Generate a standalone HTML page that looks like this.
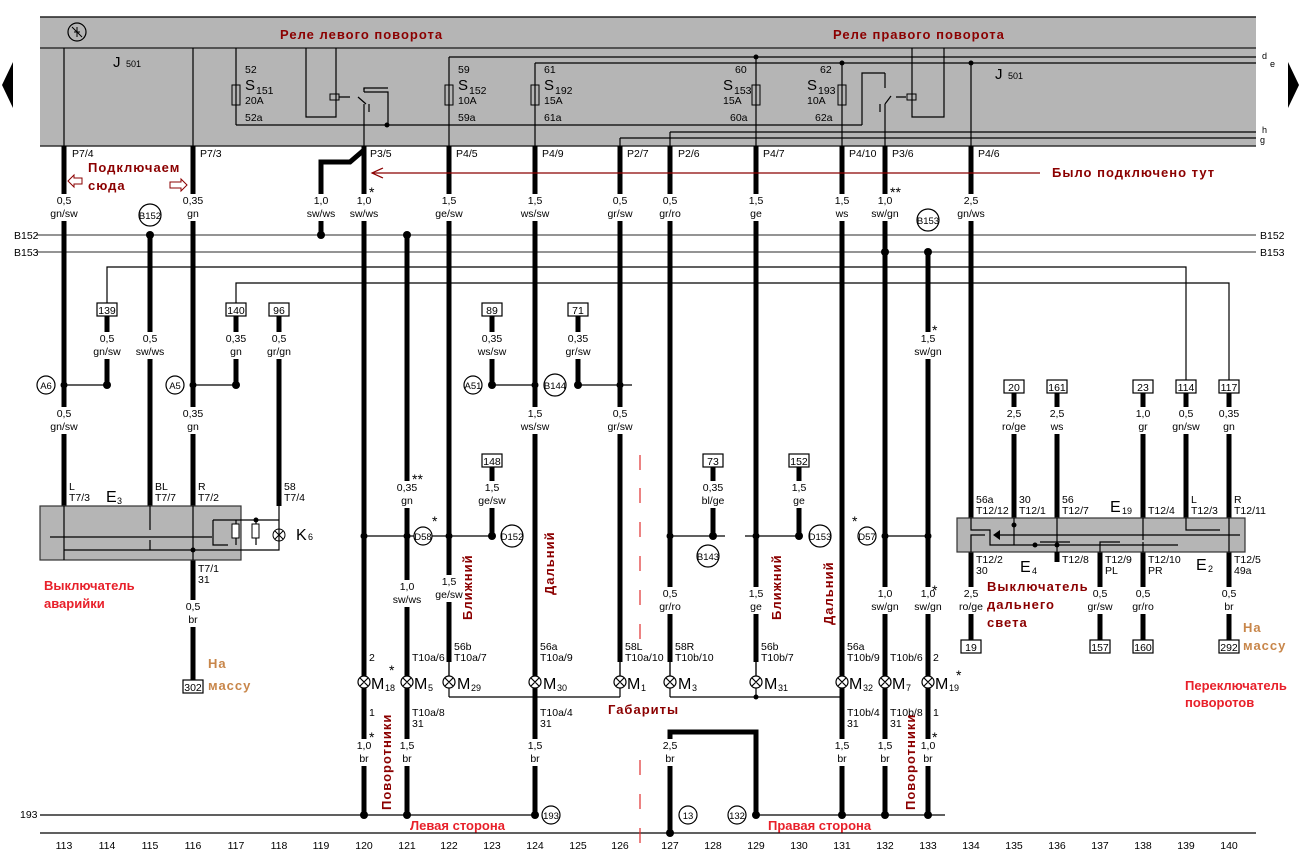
<!DOCTYPE html>
<html><head><meta charset="utf-8"><style>
html,body{margin:0;padding:0;background:#fff}
svg{display:block}
text{font-family:"Liberation Sans",Arial,sans-serif;font-size:10.5px;fill:#000}
.c{text-anchor:middle}
.w{stroke:#000;stroke-width:5;fill:none}
.t{stroke:#000;stroke-width:1.2;fill:none}
.g{stroke:#555;stroke-width:1.3;fill:none}
.wb{fill:#fff}
.bx{fill:#fff;stroke:#000;stroke-width:1.2}
.r{font-family:"Liberation Sans","DejaVu Sans",sans-serif;font-weight:bold;font-size:13px;fill:#8b0000;letter-spacing:1px}
.rr{font-family:"Liberation Sans","DejaVu Sans",sans-serif;font-weight:bold;font-size:13px;fill:#e8202a}
.or{font-family:"Liberation Sans","DejaVu Sans",sans-serif;font-weight:bold;font-size:13px;fill:#c8864a;letter-spacing:1px}
.sm{font-size:9px}
</style></head><body>
<svg width="1302" height="853" viewBox="0 0 1302 853" xmlns="http://www.w3.org/2000/svg">
<rect x="40" y="17" width="1216" height="129" fill="#b5b5b5"/>
<line x1="40" y1="17" x2="1256" y2="17" stroke="#222" stroke-width="1.5"/>
<line x1="40" y1="48" x2="1256" y2="48" stroke="#333" stroke-width="1.5"/>
<line x1="40" y1="146" x2="1256" y2="146" stroke="#333" stroke-width="1.5"/>
<line x1="449" y1="57" x2="1256" y2="57" class="t"/>
<line x1="535" y1="63" x2="1256" y2="63" class="t"/>
<line x1="620" y1="138" x2="1256" y2="138" class="t"/>
<line x1="670" y1="132" x2="1256" y2="132" class="t"/>
<line x1="236" y1="125" x2="862" y2="125" class="t"/>
<path class="t" d="M862 125 V73 H885"/>
<circle cx="387" cy="125" r="2.5"/>
<circle cx="756" cy="57" r="2.5"/><circle cx="842" cy="63" r="2.5"/><circle cx="971" cy="63" r="2.5"/>
<text x="1262" y="59" class="sm">d</text><text x="1270" y="67" class="sm">e</text>
<text x="1262" y="133" class="sm">h</text><text x="1260" y="143" class="sm">g</text>
<circle cx="77" cy="32" r="9" fill="none" stroke="#000" stroke-width="1.2"/>
<path d="M72 27 L82 37 M77 27 V37 M74 32 H80" stroke="#000" stroke-width="1"/>
<text x="280" y="39" class="r">Реле левого поворота</text>
<text x="833" y="39" class="r">Реле правого поворота</text>
<text x="113" y="67" style="font-size:15px">J</text><text x="126" y="67" class="sm">501</text>
<text x="995" y="79" style="font-size:15px">J</text><text x="1008" y="79" class="sm">501</text>
<path d="M13 62 L2 85 L13 108 Z"/><path d="M1288 62 L1299 85 L1288 108 Z"/>
<line x1="64" y1="48" x2="64" y2="146" class="t"/>
<line x1="193" y1="48" x2="193" y2="146" class="t"/>
<line x1="236" y1="48" x2="236" y2="125" class="t"/>
<line x1="449" y1="57" x2="449" y2="146" class="t"/>
<line x1="535" y1="63" x2="535" y2="146" class="t"/>
<line x1="756" y1="57" x2="756" y2="146" class="t"/>
<line x1="842" y1="63" x2="842" y2="146" class="t"/>
<line x1="971" y1="63" x2="971" y2="146" class="t"/>
<path class="t" d="M620 146 V138"/><path class="t" d="M670 146 V132"/>
<g>
<rect x="232" y="85" width="8" height="20" fill="none" stroke="#000"/><text x="245" y="73">52</text><text x="245" y="90" style="font-size:15px">S</text><text x="256" y="94">151</text><text x="245" y="104">20A</text><text x="245" y="121">52a</text>
<rect x="445" y="85" width="8" height="20" fill="none" stroke="#000"/><text x="458" y="73">59</text><text x="458" y="90" style="font-size:15px">S</text><text x="469" y="94">152</text><text x="458" y="104">10A</text><text x="458" y="121">59a</text>
<rect x="531" y="85" width="8" height="20" fill="none" stroke="#000"/><text x="544" y="73">61</text><text x="544" y="90" style="font-size:15px">S</text><text x="555" y="94">192</text><text x="544" y="104">15A</text><text x="544" y="121">61a</text>
<rect x="752" y="85" width="8" height="20" fill="none" stroke="#000"/><text x="735" y="73">60</text><text x="723" y="90" style="font-size:15px">S</text><text x="734" y="94">153</text><text x="723" y="104">15A</text><text x="730" y="121">60a</text>
<rect x="838" y="85" width="8" height="20" fill="none" stroke="#000"/><text x="820" y="73">62</text><text x="807" y="90" style="font-size:15px">S</text><text x="818" y="94">193</text><text x="807" y="104">10A</text><text x="815" y="121">62a</text>
</g>
<path class="t" d="M306 48 V117 H336 V48"/>
<rect x="330" y="94" width="9" height="6" fill="none" stroke="#000"/>
<path class="t" d="M339 97 H350 M358 97 L366 104 M364 104 V146 M369 104 V112 M364 88 V90 M364 92 H388 V125" />
<path class="t" d="M364 92 V88 H388"/>
<path class="t" d="M912 48 V117 H944 V48"/>
<rect x="907" y="94" width="9" height="6" fill="none" stroke="#000"/>
<path class="t" d="M896 97 H906 M885 104 L891 96 M885 104 V146 M880 104 V112 M885 88 V73"/>
<g>
<text x="72" y="157">P7/4</text><text x="200" y="157">P7/3</text><text x="370" y="157">P3/5</text><text x="456" y="157">P4/5</text><text x="542" y="157">P4/9</text><text x="627" y="157">P2/7</text><text x="678" y="157">P2/6</text><text x="763" y="157">P4/7</text><text x="849" y="157">P4/10</text><text x="892" y="157">P3/6</text><text x="978" y="157">P4/6</text>
</g>
<line x1="36" y1="235" x2="1256" y2="235" class="g"/>
<line x1="36" y1="252" x2="1256" y2="252" class="g"/>
<text x="14" y="239">B152</text><text x="14" y="256">B153</text>
<text x="1260" y="239">B152</text><text x="1260" y="256">B153</text>
<path class="t" d="M107 303 V267 H1186 V380"/>
<path class="t" d="M236 303 V283 H1229 V380"/>
<g class="w">
<path d="M64 146 V506"/><path d="M193 146 V506"/><path d="M150 235 V506"/><path d="M279 316 V506"/>
<path d="M107 316 V385"/><path d="M236 316 V385"/>
<path d="M321 235 V162 H350 L364 150"/>
<path d="M364 146 V815"/><path d="M407 235 V815"/><path d="M449 146 V662"/>
<path d="M492 316 V385"/><path d="M578 316 V385"/><path d="M492 467 V536"/>
<path d="M535 146 V815"/><path d="M620 146 V662"/>
<path d="M670 146 V662"/><path d="M713 467 V536"/><path d="M756 146 V662"/><path d="M799 467 V536"/>
<path d="M842 146 V815"/><path d="M885 146 V815"/><path d="M928 252 V815"/>
<path d="M670 833 V732 H756 V815"/>
<path d="M971 146 V518"/><path d="M971 552 V640"/>
<path d="M1014 393 V518"/><path d="M1057 393 V518"/><path d="M1143 393 V518"/><path d="M1186 393 V518"/><path d="M1229 393 V518"/>
<path d="M1100 552 V640"/><path d="M1143 552 V640"/><path d="M1229 552 V640"/>
<path d="M193 560 V680"/>
</g>
<g fill="#000">
<circle cx="150" cy="235" r="4"/><circle cx="321" cy="235" r="4"/><circle cx="407" cy="235" r="4"/>
<circle cx="885" cy="252" r="4"/><circle cx="928" cy="252" r="4"/>
<circle cx="64" cy="385" r="3.5"/><circle cx="107" cy="385" r="4"/><circle cx="193" cy="385" r="3.5"/><circle cx="236" cy="385" r="4"/>
<circle cx="492" cy="385" r="4"/><circle cx="535" cy="385" r="3.5"/><circle cx="578" cy="385" r="4"/><circle cx="620" cy="385" r="3.5"/>
<circle cx="364" cy="536" r="3.5"/><circle cx="407" cy="536" r="3.5"/><circle cx="449" cy="536" r="3.5"/><circle cx="492" cy="536" r="4"/>
<circle cx="670" cy="536" r="3.5"/><circle cx="713" cy="536" r="4"/><circle cx="756" cy="536" r="3.5"/><circle cx="799" cy="536" r="4"/>
<circle cx="885" cy="536" r="3.5"/><circle cx="928" cy="536" r="3.5"/>
<circle cx="364" cy="815" r="4"/><circle cx="407" cy="815" r="4"/><circle cx="535" cy="815" r="4"/><circle cx="670" cy="833" r="4"/>
<circle cx="756" cy="815" r="4"/><circle cx="842" cy="815" r="4"/><circle cx="885" cy="815" r="4"/><circle cx="928" cy="815" r="4"/>
<circle cx="535" cy="697" r="2.5"/><circle cx="842" cy="697" r="2.5"/><circle cx="756" cy="697" r="2.5"/>
</g>
<g class="t">
<path d="M64 385 H107"/><path d="M193 385 H236"/><path d="M492 385 H535"/><path d="M578 385 H632"/>
<path d="M364 536 H449"/><path d="M449 536 H492"/><path d="M670 536 H725"/><path d="M745 536 H799"/><path d="M885 536 H928"/>
<path d="M449 697 H620"/><path d="M670 697 H842"/>
<path d="M40 815 H535"/><path d="M756 815 H945"/>
<path d="M40 833 H1256"/>
<path d="M449 662 V697 M620 662 V697 M670 662 V697 M756 662 V697"/>
</g>
<path d="M640 455 V470 M640 488 V503 M640 522 V537 M640 556 V571 M640 590 V605 M640 624 V639 M640 760 V775 M640 794 V809 M640 828 V843" stroke="#e03030" stroke-width="1.2"/>
<g class="wb">
<rect x="46" y="194" width="36" height="27"/><rect x="175" y="194" width="36" height="27"/><rect x="303" y="194" width="36" height="27"/><rect x="346" y="194" width="36" height="27"/><rect x="431" y="194" width="36" height="27"/><rect x="517" y="194" width="36" height="27"/><rect x="602" y="194" width="36" height="27"/><rect x="652" y="194" width="36" height="27"/><rect x="738" y="194" width="36" height="27"/><rect x="824" y="194" width="36" height="27"/><rect x="867" y="194" width="36" height="27"/><rect x="953" y="194" width="36" height="27"/>
<rect x="89" y="332" width="36" height="27"/><rect x="132" y="332" width="36" height="27"/><rect x="218" y="332" width="36" height="27"/><rect x="261" y="332" width="36" height="27"/><rect x="474" y="332" width="36" height="27"/><rect x="560" y="332" width="36" height="27"/><rect x="910" y="332" width="36" height="27"/>
<rect x="46" y="407" width="36" height="27"/><rect x="175" y="407" width="36" height="27"/><rect x="517" y="407" width="36" height="27"/><rect x="602" y="407" width="36" height="27"/><rect x="996" y="407" width="36" height="27"/><rect x="1039" y="407" width="36" height="27"/><rect x="1125" y="407" width="36" height="27"/><rect x="1168" y="407" width="36" height="27"/><rect x="1211" y="407" width="36" height="27"/>
<rect x="389" y="481" width="36" height="27"/><rect x="474" y="481" width="36" height="27"/><rect x="695" y="481" width="36" height="27"/><rect x="781" y="481" width="36" height="27"/>
<rect x="389" y="580" width="36" height="27"/><rect x="431" y="575" width="36" height="27"/><rect x="652" y="587" width="36" height="27"/><rect x="738" y="587" width="36" height="27"/><rect x="867" y="587" width="36" height="27"/><rect x="910" y="587" width="36" height="27"/><rect x="953" y="587" width="36" height="27"/><rect x="1082" y="587" width="36" height="27"/><rect x="1125" y="587" width="36" height="27"/><rect x="1211" y="587" width="36" height="27"/><rect x="175" y="600" width="36" height="27"/>
<rect x="346" y="739" width="36" height="27"/><rect x="389" y="739" width="36" height="27"/><rect x="517" y="739" width="36" height="27"/><rect x="652" y="739" width="36" height="27"/><rect x="824" y="739" width="36" height="27"/><rect x="867" y="739" width="36" height="27"/><rect x="910" y="739" width="36" height="27"/>
</g>
<g class="c">
<text x="64" y="204">0,5</text><text x="64" y="217">gn/sw</text>
<text x="193" y="204">0,35</text><text x="193" y="217">gn</text>
<text x="321" y="204">1,0</text><text x="321" y="217">sw/ws</text>
<text x="364" y="204">1,0</text><text x="364" y="217">sw/ws</text>
<text x="449" y="204">1,5</text><text x="449" y="217">ge/sw</text>
<text x="535" y="204">1,5</text><text x="535" y="217">ws/sw</text>
<text x="620" y="204">0,5</text><text x="620" y="217">gr/sw</text>
<text x="670" y="204">0,5</text><text x="670" y="217">gr/ro</text>
<text x="756" y="204">1,5</text><text x="756" y="217">ge</text>
<text x="842" y="204">1,5</text><text x="842" y="217">ws</text>
<text x="885" y="204">1,0</text><text x="885" y="217">sw/gn</text>
<text x="971" y="204">2,5</text><text x="971" y="217">gn/ws</text>
<text x="107" y="342">0,5</text><text x="107" y="355">gn/sw</text>
<text x="150" y="342">0,5</text><text x="150" y="355">sw/ws</text>
<text x="236" y="342">0,35</text><text x="236" y="355">gn</text>
<text x="279" y="342">0,5</text><text x="279" y="355">gr/gn</text>
<text x="492" y="342">0,35</text><text x="492" y="355">ws/sw</text>
<text x="578" y="342">0,35</text><text x="578" y="355">gr/sw</text>
<text x="928" y="342">1,5</text><text x="928" y="355">sw/gn</text>
<text x="64" y="417">0,5</text><text x="64" y="430">gn/sw</text>
<text x="193" y="417">0,35</text><text x="193" y="430">gn</text>
<text x="535" y="417">1,5</text><text x="535" y="430">ws/sw</text>
<text x="620" y="417">0,5</text><text x="620" y="430">gr/sw</text>
<text x="1014" y="417">2,5</text><text x="1014" y="430">ro/ge</text>
<text x="1057" y="417">2,5</text><text x="1057" y="430">ws</text>
<text x="1143" y="417">1,0</text><text x="1143" y="430">gr</text>
<text x="1186" y="417">0,5</text><text x="1186" y="430">gn/sw</text>
<text x="1229" y="417">0,35</text><text x="1229" y="430">gn</text>
<text x="407" y="491">0,35</text><text x="407" y="504">gn</text>
<text x="492" y="491">1,5</text><text x="492" y="504">ge/sw</text>
<text x="713" y="491">0,35</text><text x="713" y="504">bl/ge</text>
<text x="799" y="491">1,5</text><text x="799" y="504">ge</text>
<text x="407" y="590">1,0</text><text x="407" y="603">sw/ws</text>
<text x="449" y="585">1,5</text><text x="449" y="598">ge/sw</text>
<text x="670" y="597">0,5</text><text x="670" y="610">gr/ro</text>
<text x="756" y="597">1,5</text><text x="756" y="610">ge</text>
<text x="885" y="597">1,0</text><text x="885" y="610">sw/gn</text>
<text x="928" y="597">1,0</text><text x="928" y="610">sw/gn</text>
<text x="971" y="597">2,5</text><text x="971" y="610">ro/ge</text>
<text x="1100" y="597">0,5</text><text x="1100" y="610">gr/sw</text>
<text x="1143" y="597">0,5</text><text x="1143" y="610">gr/ro</text>
<text x="1229" y="597">0,5</text><text x="1229" y="610">br</text>
<text x="193" y="610">0,5</text><text x="193" y="623">br</text>
<text x="364" y="749">1,0</text><text x="364" y="762">br</text>
<text x="407" y="749">1,5</text><text x="407" y="762">br</text>
<text x="535" y="749">1,5</text><text x="535" y="762">br</text>
<text x="670" y="749">2,5</text><text x="670" y="762">br</text>
<text x="842" y="749">1,5</text><text x="842" y="762">br</text>
<text x="885" y="749">1,5</text><text x="885" y="762">br</text>
<text x="928" y="749">1,0</text><text x="928" y="762">br</text>
</g>
<g>
<rect class="bx" x="97" y="303" width="20" height="13"/><text x="107" y="314" class="c">139</text>
<rect class="bx" x="226" y="303" width="20" height="13"/><text x="236" y="314" class="c">140</text>
<rect class="bx" x="269" y="303" width="20" height="13"/><text x="279" y="314" class="c">96</text>
<rect class="bx" x="482" y="303" width="20" height="13"/><text x="492" y="314" class="c">89</text>
<rect class="bx" x="568" y="303" width="20" height="13"/><text x="578" y="314" class="c">71</text>
<rect class="bx" x="482" y="454" width="20" height="13"/><text x="492" y="465" class="c">148</text>
<rect class="bx" x="703" y="454" width="20" height="13"/><text x="713" y="465" class="c">73</text>
<rect class="bx" x="789" y="454" width="20" height="13"/><text x="799" y="465" class="c">152</text>
<rect class="bx" x="1004" y="380" width="20" height="13"/><text x="1014" y="391" class="c">20</text>
<rect class="bx" x="1047" y="380" width="20" height="13"/><text x="1057" y="391" class="c">161</text>
<rect class="bx" x="1133" y="380" width="20" height="13"/><text x="1143" y="391" class="c">23</text>
<rect class="bx" x="1176" y="380" width="20" height="13"/><text x="1186" y="391" class="c">114</text>
<rect class="bx" x="1219" y="380" width="20" height="13"/><text x="1229" y="391" class="c">117</text>
<rect class="bx" x="961" y="640" width="20" height="13"/><text x="971" y="651" class="c">19</text>
<rect class="bx" x="1090" y="640" width="20" height="13"/><text x="1100" y="651" class="c">157</text>
<rect class="bx" x="1133" y="640" width="20" height="13"/><text x="1143" y="651" class="c">160</text>
<rect class="bx" x="1219" y="640" width="20" height="13"/><text x="1229" y="651" class="c">292</text>
<rect class="bx" x="183" y="680" width="20" height="13"/><text x="193" y="691" class="c">302</text>
</g>
<g fill="#fff" stroke="#000" stroke-width="1.2">
<circle cx="150" cy="215" r="11"/><circle cx="928" cy="220" r="11"/>
<circle cx="46" cy="385" r="9"/><circle cx="175" cy="385" r="9"/><circle cx="473" cy="385" r="9"/><circle cx="555" cy="385" r="11"/>
<circle cx="423" cy="536" r="9"/><circle cx="512" cy="536" r="11"/><circle cx="708" cy="556" r="11"/><circle cx="820" cy="536" r="11"/><circle cx="867" cy="536" r="9"/>
<circle cx="551" cy="815" r="9"/><circle cx="688" cy="815" r="9"/><circle cx="737" cy="815" r="9"/>
</g>
<g class="c">
<text x="150" y="219" style="font-size:9.5px">B152</text><text x="928" y="224" style="font-size:9.5px">B153</text>
<text x="46" y="389" style="font-size:9.5px">A6</text><text x="175" y="389" style="font-size:9.5px">A5</text><text x="473" y="389" style="font-size:9.5px">A51</text><text x="555" y="389" style="font-size:9.5px">B144</text>
<text x="423" y="540" style="font-size:9.5px">D58</text><text x="512" y="540" style="font-size:9.5px">D152</text><text x="708" y="560" style="font-size:9.5px">B143</text><text x="820" y="540" style="font-size:9.5px">D153</text><text x="867" y="540" style="font-size:9.5px">D57</text>
<text x="551" y="819" style="font-size:9.5px">193</text><text x="688" y="819" style="font-size:9.5px">13</text><text x="737" y="819" style="font-size:9.5px">132</text>
</g>
<rect x="40" y="506" width="201" height="54" fill="#b5b5b5" stroke="#333" stroke-width="1.2"/>
<path class="t" d="M50 537 H212 M64 506 V560 M150 506 V530 M193 506 V560 M64 550 H279 V506 M150 540 V550 M213 520 H279 M213 520 V545 H228 M228 520 H265 M236 520 V545 M256 520 V545 M265 520 H279"/>
<rect x="232" y="524" width="7" height="14" fill="#fff" stroke="#000"/><rect x="252" y="524" width="7" height="14" fill="#fff" stroke="#000"/>
<circle cx="279" cy="535" r="6" fill="none" stroke="#000"/><path d="M275 531 L283 539 M283 531 L275 539" stroke="#000"/>
<circle cx="256" cy="520" r="2.5"/><circle cx="193" cy="550" r="2.5"/>
<text x="296" y="540" style="font-size:16px">K</text><text x="308" y="540" class="sm">6</text>
<text x="106" y="502" style="font-size:16px">E</text><text x="117" y="504" class="sm">3</text>
<text x="69" y="490">L</text><text x="69" y="501">T7/3</text>
<text x="155" y="490">BL</text><text x="155" y="501">T7/7</text>
<text x="198" y="490">R</text><text x="198" y="501">T7/2</text>
<text x="284" y="490">58</text><text x="284" y="501">T7/4</text>
<text x="198" y="572">T7/1</text><text x="198" y="583">31</text>
<text x="44" y="590" class="rr">Выключатель</text><text x="44" y="608" class="rr">аварийки</text>
<text x="208" y="668" class="or">На</text><text x="208" y="690" class="or">массу</text>
<rect x="957" y="518" width="288" height="34" fill="#b5b5b5" stroke="#333" stroke-width="1.2"/>
<path class="t" d="M971 518 V530 H990 V545 H1178 M1014 518 V545 M1057 518 V560 M1143 518 V540 M1186 518 V530 H1220 M1229 518 V552 M971 552 V535 H985 M1000 535 H1240 M1100 552 V542 H1120 M1143 552 V542 M1040 542 H1070"/>
<path d="M1000 530 L993 535 L1000 540 Z"/>
<circle cx="1014" cy="525" r="2.5"/><circle cx="1057" cy="545" r="2.5"/><circle cx="1035" cy="545" r="2.5"/>
<path class="w" d="M1057 552 V562"/>
<text x="976" y="503">56a</text><text x="976" y="514">T12/12</text>
<text x="1019" y="503">30</text><text x="1019" y="514">T12/1</text>
<text x="1062" y="503">56</text><text x="1062" y="514">T12/7</text>
<text x="1110" y="512" style="font-size:16px">E</text><text x="1122" y="514" class="sm">19</text>
<text x="1148" y="514">T12/4</text>
<text x="1191" y="503">L</text><text x="1191" y="514">T12/3</text>
<text x="1234" y="503">R</text><text x="1234" y="514">T12/11</text>
<text x="976" y="563">T12/2</text><text x="976" y="574">30</text>
<text x="1020" y="572" style="font-size:16px">E</text><text x="1032" y="574" class="sm">4</text>
<text x="1062" y="563">T12/8</text>
<text x="1105" y="563">T12/9</text><text x="1105" y="574">PL</text>
<text x="1148" y="563">T12/10</text><text x="1148" y="574">PR</text>
<text x="1196" y="570" style="font-size:16px">E</text><text x="1208" y="572" class="sm">2</text>
<text x="1234" y="563">T12/5</text><text x="1234" y="574">49a</text>
<text x="987" y="591" class="r">Выключатель</text><text x="987" y="609" class="r">дальнего</text><text x="987" y="627" class="r">света</text>
<text x="1243" y="632" class="or">На</text><text x="1243" y="650" class="or">массу</text>
<text x="1185" y="690" class="rr">Переключатель</text><text x="1185" y="707" class="rr">поворотов</text>
<g>
<text x="369" y="661">2</text><text x="412" y="661">T10a/6</text><text x="454" y="650">56b</text><text x="454" y="661">T10a/7</text>
<text x="540" y="650">56a</text><text x="540" y="661">T10a/9</text><text x="625" y="650">58L</text><text x="625" y="661">T10a/10</text>
<text x="675" y="650">58R</text><text x="675" y="661">T10b/10</text><text x="761" y="650">56b</text><text x="761" y="661">T10b/7</text>
<text x="847" y="650">56a</text><text x="847" y="661">T10b/9</text><text x="890" y="661">T10b/6</text><text x="933" y="661">2</text>
<text x="369" y="716">1</text><text x="412" y="716">T10a/8</text><text x="412" y="727">31</text>
<text x="540" y="716">T10a/4</text><text x="540" y="727">31</text>
<text x="847" y="716">T10b/4</text><text x="847" y="727">31</text><text x="890" y="716">T10b/8</text><text x="890" y="727">31</text><text x="933" y="716">1</text>
</g>
<g fill="#fff" stroke="#000" stroke-width="1.2">
<circle cx="364" cy="682" r="6"/><circle cx="407" cy="682" r="6"/><circle cx="449" cy="682" r="6"/><circle cx="535" cy="682" r="6"/><circle cx="620" cy="682" r="6"/>
<circle cx="670" cy="682" r="6"/><circle cx="756" cy="682" r="6"/><circle cx="842" cy="682" r="6"/><circle cx="885" cy="682" r="6"/><circle cx="928" cy="682" r="6"/>
</g>
<path stroke="#000" stroke-width="1.2" d="M360 678 l8 8 m0 -8 l-8 8 M403 678 l8 8 m0 -8 l-8 8 M445 678 l8 8 m0 -8 l-8 8 M531 678 l8 8 m0 -8 l-8 8 M616 678 l8 8 m0 -8 l-8 8 M666 678 l8 8 m0 -8 l-8 8 M752 678 l8 8 m0 -8 l-8 8 M838 678 l8 8 m0 -8 l-8 8 M881 678 l8 8 m0 -8 l-8 8 M924 678 l8 8 m0 -8 l-8 8"/>
<path class="t" d="M364 662 V676 M364 688 V705 M407 662 V676 M407 688 V705 M535 688 V705 M842 688 V705 M885 662 V676 M885 688 V705 M928 662 V676 M928 688 V705 M535 662 V676 M842 662 V676 M449 662 V676 M620 662 V676 M670 662 V676 M756 662 V676"/>
<g>
<text x="371" y="689" style="font-size:16px">M</text><text x="385" y="691" class="sm">18</text>
<text x="414" y="689" style="font-size:16px">M</text><text x="428" y="691" class="sm">5</text>
<text x="457" y="689" style="font-size:16px">M</text><text x="471" y="691" class="sm">29</text>
<text x="543" y="689" style="font-size:16px">M</text><text x="557" y="691" class="sm">30</text>
<text x="627" y="689" style="font-size:16px">M</text><text x="641" y="691" class="sm">1</text>
<text x="678" y="689" style="font-size:16px">M</text><text x="692" y="691" class="sm">3</text>
<text x="764" y="689" style="font-size:16px">M</text><text x="778" y="691" class="sm">31</text>
<text x="849" y="689" style="font-size:16px">M</text><text x="863" y="691" class="sm">32</text>
<text x="892" y="689" style="font-size:16px">M</text><text x="906" y="691" class="sm">7</text>
<text x="935" y="689" style="font-size:16px">M</text><text x="949" y="691" class="sm">19</text>
</g>
<g>
<text x="369" y="197" style="font-size:14px">*</text><text x="890" y="197" style="font-size:14px">**</text><text x="932" y="335" style="font-size:14px">*</text>
<text x="412" y="484" style="font-size:14px">**</text><text x="432" y="526" style="font-size:14px">*</text><text x="852" y="526" style="font-size:14px">*</text>
<text x="932" y="595" style="font-size:14px">*</text><text x="389" y="675" style="font-size:14px">*</text><text x="956" y="680" style="font-size:14px">*</text>
<text x="369" y="742" style="font-size:14px">*</text><text x="932" y="742" style="font-size:14px">*</text>
</g>
<text transform="translate(472,620) rotate(-90)" class="r">Ближний</text>
<text transform="translate(554,595) rotate(-90)" class="r">Дальний</text>
<text transform="translate(781,620) rotate(-90)" class="r">Ближний</text>
<text transform="translate(833,625) rotate(-90)" class="r">Дальний</text>
<text transform="translate(391,810) rotate(-90)" class="r">Поворотники</text>
<text transform="translate(915,810) rotate(-90)" class="r">Поворотники</text>
<text x="608" y="714" class="r">Габариты</text>
<text x="410" y="830" class="rr">Левая сторона</text>
<text x="768" y="830" class="rr">Правая сторона</text>
<text x="20" y="818">193</text>
<path d="M372 173 H1040" stroke="#8b0000" stroke-width="1.2"/>
<path d="M383 168 L372 173 L383 178" stroke="#8b0000" stroke-width="1.2" fill="none"/>
<text x="1052" y="177" class="r">Было подключено тут</text>
<text x="88" y="172" class="r">Подключаем</text><text x="88" y="190" class="r">сюда</text>
<path d="M68 181 L74 175 V178 H82 V184 H74 V187 Z" fill="#fff" stroke="#8b0000"/>
<path d="M187 187 L181 181 V184 H170 V190 H181 V193 Z" transform="translate(0,-2)" fill="#fff" stroke="#8b0000"/>
<g class="c">
<text x="64" y="849">113</text><text x="107" y="849">114</text><text x="150" y="849">115</text><text x="193" y="849">116</text><text x="236" y="849">117</text><text x="279" y="849">118</text><text x="321" y="849">119</text><text x="364" y="849">120</text><text x="407" y="849">121</text><text x="449" y="849">122</text><text x="492" y="849">123</text><text x="535" y="849">124</text><text x="578" y="849">125</text><text x="620" y="849">126</text>
<text x="670" y="849">127</text><text x="713" y="849">128</text><text x="756" y="849">129</text><text x="799" y="849">130</text><text x="842" y="849">131</text><text x="885" y="849">132</text><text x="928" y="849">133</text><text x="971" y="849">134</text><text x="1014" y="849">135</text><text x="1057" y="849">136</text><text x="1100" y="849">137</text><text x="1143" y="849">138</text><text x="1186" y="849">139</text><text x="1229" y="849">140</text>
</g>
</svg>
</body></html>
